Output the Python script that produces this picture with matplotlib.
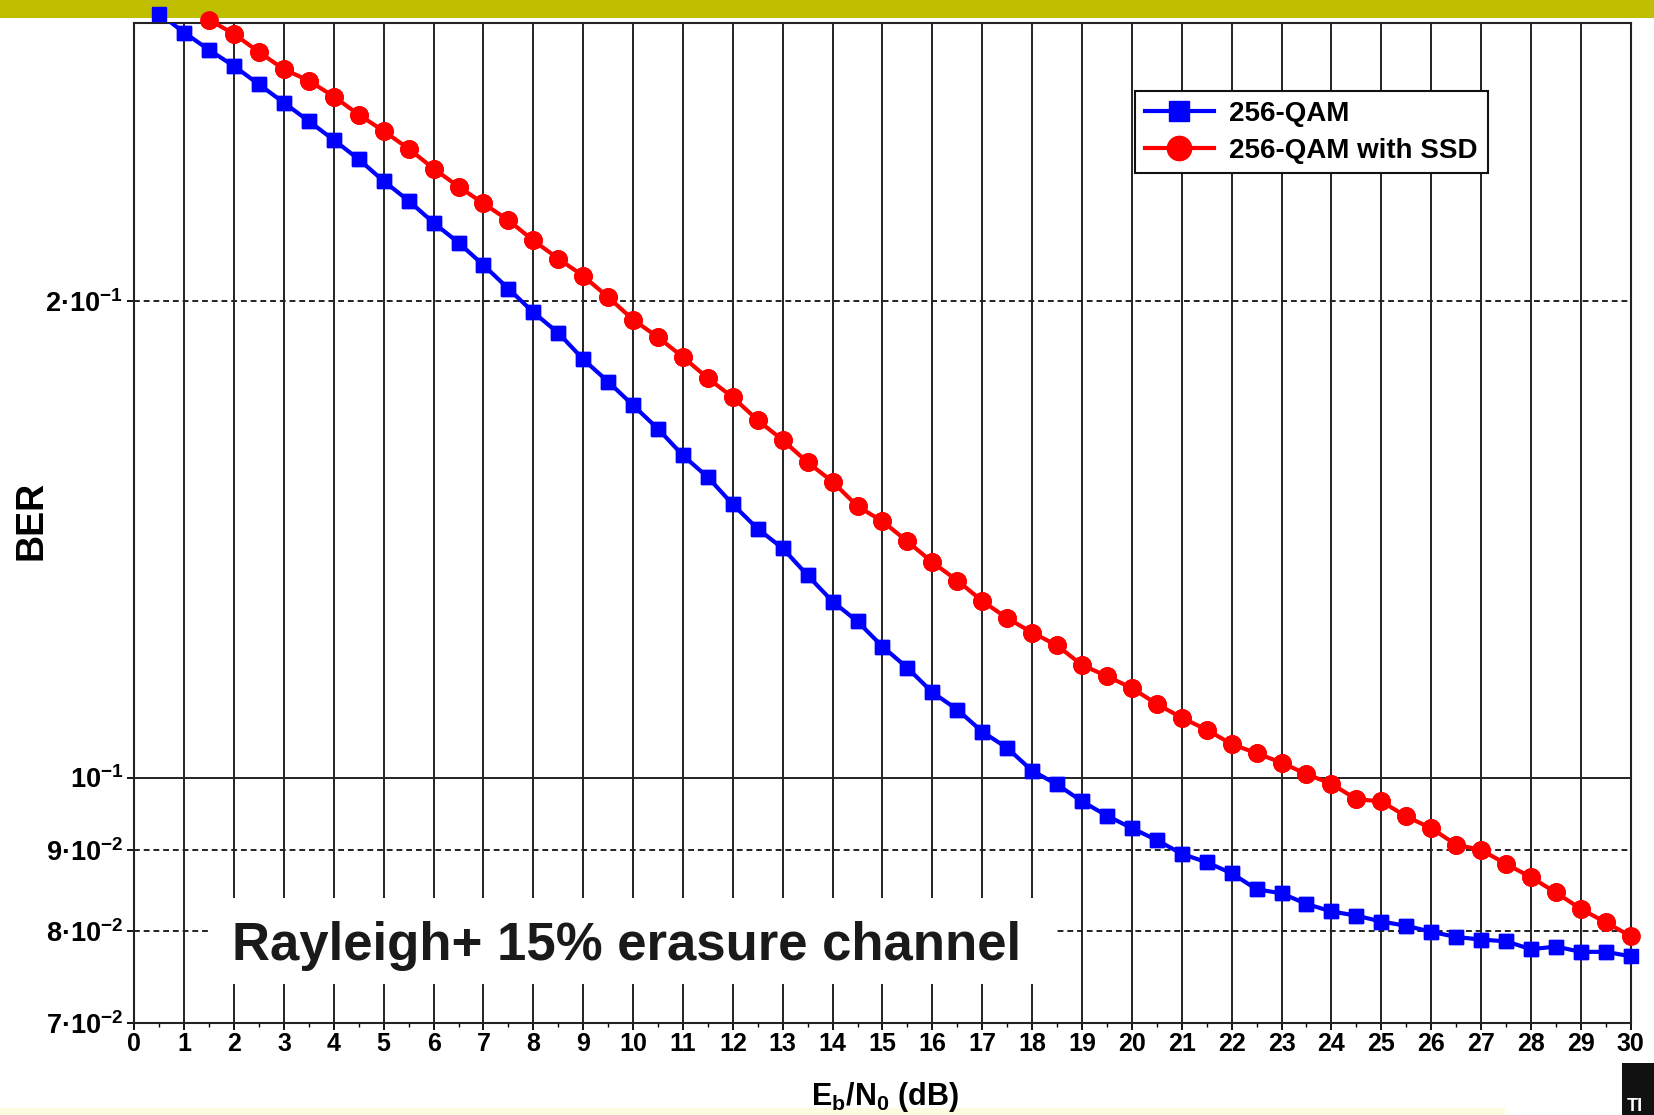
import matplotlib
matplotlib.use('Agg')
import matplotlib.pyplot as plt
from matplotlib.patches import Rectangle
from matplotlib.ticker import FixedLocator, FixedFormatter, MultipleLocator, NullLocator

# Eb/N0 (dB) and BER
snr_qam = [0.5, 1, 1.5, 2, 2.5, 3, 3.5, 4, 4.5, 5,
           5.5, 6, 6.5, 7, 7.5, 8, 8.5, 9, 9.5, 10,
           10.5, 11, 11.5, 12, 12.5, 13, 13.5, 14, 14.5, 15,
           15.5, 16, 16.5, 17, 17.5, 18, 18.5, 19, 19.5, 20,
           20.5, 21, 21.5, 22, 22.5, 23, 23.5, 24, 24.5, 25,
           25.5, 26, 26.5, 27, 27.5, 28, 28.5, 29, 29.5, 30]
ber_qam = [0.3040, 0.2957, 0.2883, 0.2816, 0.2742, 0.2670, 0.2599, 0.2529, 0.2459, 0.2382,
           0.2315, 0.2242, 0.2178, 0.2108, 0.2037, 0.1968, 0.1910, 0.1838, 0.1779, 0.1719,
           0.1661, 0.1598, 0.1548, 0.1488, 0.1436, 0.1396, 0.1342, 0.1292, 0.1255, 0.1210,
           0.1173, 0.1132, 0.1104, 0.1069, 0.1044, 0.1010, 0.0990, 0.0966, 0.0946, 0.0929,
           0.0913, 0.0895, 0.0884, 0.0870, 0.0850, 0.0845, 0.0832, 0.0823, 0.0818, 0.0811,
           0.0806, 0.0799, 0.0793, 0.0790, 0.0788, 0.0779, 0.0782, 0.0776, 0.0776, 0.0771]

snr_ssd = [1.5, 2, 2.5, 3, 3.5, 4, 4.5, 5, 5.5,
           6, 6.5, 7, 7.5, 8, 8.5, 9, 9.5, 10, 10.5,
           11, 11.5, 12, 12.5, 13, 13.5, 14, 14.5, 15, 15.5,
           16, 16.5, 17, 17.5, 18, 18.5, 19, 19.5, 20, 20.5,
           21, 21.5, 22, 22.5, 23, 23.5, 24, 24.5, 25, 25.5,
           26, 26.5, 27, 27.5, 28, 28.5, 29, 29.5, 30]
ber_ssd = [0.3012, 0.2951, 0.2874, 0.2803, 0.2757, 0.2694, 0.2624, 0.2562, 0.2497,
           0.2426, 0.2363, 0.2306, 0.2250, 0.2185, 0.2128, 0.2075, 0.2012, 0.1947, 0.1898,
           0.1844, 0.1788, 0.1739, 0.1682, 0.1634, 0.1582, 0.1538, 0.1484, 0.1452, 0.1410,
           0.1368, 0.1332, 0.1293, 0.1261, 0.1235, 0.1212, 0.1178, 0.1159, 0.1139, 0.1113,
           0.1091, 0.1072, 0.1050, 0.1036, 0.1022, 0.1005, 0.0991, 0.0969, 0.0966, 0.0945,
           0.0929, 0.0907, 0.0900, 0.0882, 0.0865, 0.0846, 0.0826, 0.0810, 0.0794]

x_ticks = list(range(0, 31))
y_ticks = [0.07, 0.08, 0.09, 0.1, 0.2]
y_tick_labels = [r'$7·10^{-2}$', r'$8·10^{-2}$', r'$9·10^{-2}$',
                 r'$10^{-1}$', r'$2·10^{-1}$']

plt.rcParams['font.family'] = ['Liberation Sans', 'DejaVu Sans']
plt.rcParams['font.weight'] = 'bold'
plt.rcParams['mathtext.fontset'] = 'custom'
plt.rcParams['mathtext.rm'] = 'Liberation Sans:bold'
plt.rcParams['mathtext.it'] = 'Liberation Sans:bold'
plt.rcParams['mathtext.bf'] = 'Liberation Sans:bold'
plt.rcParams['mathtext.sf'] = 'Liberation Sans:bold'
plt.rcParams['mathtext.default'] = 'rm'

fig = plt.figure(figsize=(16.54, 11.15), dpi=100, facecolor='white')
ax = fig.add_axes([0.0812, 0.0828, 0.9047, 0.8969])

# decoration of the slide: olive band on top, logo corner, pale strip at bottom
fig.patches.append(Rectangle((0, 1 - 17.5 / 1115), 1, 17.5 / 1115, transform=fig.transFigure,
                             facecolor='#bfbf00', edgecolor='none', zorder=-1))
fig.patches.append(Rectangle((0, 0), 0.91, 7 / 1115, transform=fig.transFigure,
                             facecolor='#fffbe0', edgecolor='none', zorder=-1))
fig.patches.append(Rectangle((1622 / 1654, 0), 32 / 1654, 52 / 1115, transform=fig.transFigure,
                             facecolor='#111111', edgecolor='none', zorder=5))
fig.text(0.9835, 0.004, 'TI', color='white', fontsize=13, zorder=6)

ax.set_yscale('log')
ax.set_xlim(0, 30)
ax.set_ylim(0.07, 0.3)

# grid
ax.set_xticks(x_ticks)
ax.xaxis.set_minor_locator(MultipleLocator(0.5))
ax.grid(axis='x', which='major', color='#222222', lw=1.4, zorder=1)
for v in y_ticks:
    ls = '-' if v == 0.1 else (0, (3, 2))
    ax.axhline(v, color='#222222', lw=1.4, ls=ls, zorder=1)

ax.yaxis.set_major_locator(FixedLocator(y_ticks))
ax.yaxis.set_major_formatter(FixedFormatter(y_tick_labels))
ax.yaxis.set_minor_locator(NullLocator())

ax.tick_params(axis='x', which='major', direction='out', length=5, width=1.3,
               labelsize=18, pad=1.5)
ax.tick_params(axis='x', which='minor', direction='out', length=3, width=1.0)
ax.tick_params(axis='y', which='major', direction='out', length=5, width=1.3,
               labelsize=19.5, pad=3)

for sp in ax.spines.values():
    sp.set_color('#222222')
    sp.set_linewidth(1.5)

# white box behind the channel annotation
ax.add_patch(Rectangle((1.52, 0.0741), 16.94, 0.0098, facecolor='white',
                       edgecolor='none', zorder=2))
ax.text(1.95, 0.07672, 'Rayleigh+ 15% erasure channel', fontsize=38, fontweight='bold',
        color='#1a1a1a', ha='left', va='baseline', zorder=4)

ax.plot(snr_qam, ber_qam, color='#0000ff', lw=3, marker='s', ms=10.5,
        label='256-QAM', zorder=3)
ax.plot(snr_ssd, ber_ssd, color='#ff0000', lw=3, marker='o', ms=12.5,
        label='256-QAM with SSD', zorder=3)
# markers are drawn again unclipped (first points sit above the frame)
ax.plot(snr_qam, ber_qam, ls='none', color='#0000ff', marker='s', ms=10.5,
        clip_on=False, zorder=3)
ax.plot(snr_ssd, ber_ssd, ls='none', color='#ff0000', marker='o', ms=12.5,
        clip_on=False, zorder=3)

leg = ax.legend(loc='upper left', bbox_to_anchor=(0.6687, 0.9317), borderaxespad=0,
                prop=dict(family='Liberation Sans', weight='bold', size=20),
                frameon=True, fancybox=False, framealpha=1, edgecolor='#111111',
                handlelength=2.5, handletextpad=0.55, labelspacing=0.4,
                borderpad=0.35, markerscale=1.4)
leg.get_frame().set_linewidth(1.5)
leg.set_zorder(6)

ax.set_xlabel(r'E$_\mathrm{b}$/N$_\mathrm{0}$ (dB)', fontsize=22, fontweight='bold')
ax.xaxis.label.set_va('baseline')
ax.xaxis.set_label_coords(0.5017, -0.0823)
ax.set_ylabel('BER', fontsize=27, fontweight='bold')
ax.yaxis.label.set_va('center')
ax.yaxis.set_label_coords(-0.069, 0.502)

fig.savefig('out.png', dpi=100, facecolor='white')
